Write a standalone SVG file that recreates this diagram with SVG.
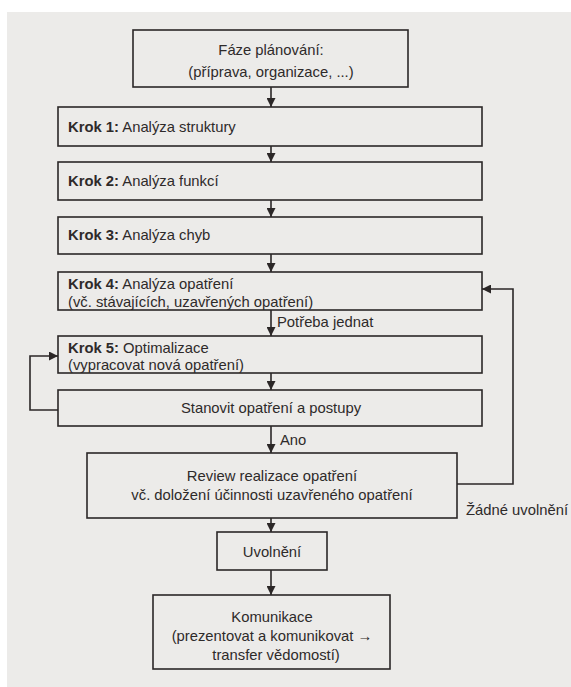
<svg xmlns="http://www.w3.org/2000/svg" width="571" height="687" viewBox="0 0 571 687">
  <defs>
    <style>
      .box { fill: none; stroke: #2b2727; stroke-width: 1.6; }
      .wire { fill: none; stroke: #2b2727; stroke-width: 1.6; }
      text { font-family: "Liberation Sans", Arial, sans-serif; font-size: 14.8px; fill: #2e2a2a; }
      .c { text-anchor: middle; }
      .b { font-weight: bold; }
    </style>
    <marker id="tip" viewBox="0 0 10 10" refX="10" refY="5" markerWidth="9" markerHeight="9" markerUnits="userSpaceOnUse" orient="auto">
      <path d="M0,0 L10,5 L0,10 Z" fill="#2b2727"/>
    </marker>
  </defs>

  <!-- paper -->
  <rect x="0" y="0" width="571" height="687" fill="#ffffff"/>
  <rect x="7" y="12" width="564" height="675" fill="#ecebe9"/>

  <!-- connectors -->
  <g id="connectors">
    <line class="wire" x1="271" y1="87" x2="271" y2="107" marker-end="url(#tip)"/>
    <line class="wire" x1="271" y1="146" x2="271" y2="162" marker-end="url(#tip)"/>
    <line class="wire" x1="271" y1="200" x2="271" y2="217" marker-end="url(#tip)"/>
    <line class="wire" x1="271" y1="254" x2="271" y2="272" marker-end="url(#tip)"/>
    <line class="wire" x1="271" y1="310" x2="271" y2="336" marker-end="url(#tip)"/>
    <line class="wire" x1="271" y1="373" x2="271" y2="390" marker-end="url(#tip)"/>
    <line class="wire" x1="271" y1="426" x2="271" y2="453" marker-end="url(#tip)"/>
    <line class="wire" x1="271" y1="518" x2="271" y2="532" marker-end="url(#tip)"/>
    <line class="wire" x1="271" y1="570" x2="271" y2="595" marker-end="url(#tip)"/>
    <!-- loop back from measures to optimisation -->
    <polyline class="wire" points="58,410 30,410 30,356 58,356" marker-end="url(#tip)"/>
    <!-- loop back from review to step 4 -->
    <polyline class="wire" points="457,484 513,484 513,289 482,289" marker-end="url(#tip)"/>
    <text x="277" y="327">Potřeba jednat</text>
    <text x="280" y="445">Ano</text>
    <text x="466" y="515">Žádné uvolnění</text>
  </g>

  <g id="planning">
    <rect class="box" x="133" y="30" width="275" height="57"/>
    <text class="c" x="271" y="55">Fáze plánování:</text>
    <text class="c" x="271" y="77">(příprava, organizace, ...)</text>
  </g>

  <g id="step1">
    <rect class="box" x="58" y="107" width="424" height="39"/>
    <text x="68" y="132"><tspan class="b">Krok 1:</tspan> Analýza struktury</text>
  </g>

  <g id="step2">
    <rect class="box" x="58" y="162" width="424" height="38"/>
    <text x="68" y="186"><tspan class="b">Krok 2:</tspan> Analýza funkcí</text>
  </g>

  <g id="step3">
    <rect class="box" x="58" y="217" width="424" height="37"/>
    <text x="68" y="240"><tspan class="b">Krok 3:</tspan> Analýza chyb</text>
  </g>

  <g id="step4">
    <rect class="box" x="58" y="272" width="424" height="38"/>
    <text x="68" y="289"><tspan class="b">Krok 4:</tspan> Analýza opatření</text>
    <text x="68" y="307">(vč. stávajících, uzavřených opatření)</text>
  </g>

  <g id="step5">
    <rect class="box" x="58" y="336" width="424" height="37"/>
    <text x="68" y="353"><tspan class="b">Krok 5:</tspan> Optimalizace</text>
    <text x="68" y="370">(vypracovat nová opatření)</text>
  </g>

  <g id="measures">
    <rect class="box" x="58" y="390" width="424" height="36"/>
    <text class="c" x="271" y="413">Stanovit opatření a postupy</text>
  </g>

  <g id="review">
    <rect class="box" x="87" y="453" width="370" height="65"/>
    <text class="c" x="272" y="481">Review realizace opatření</text>
    <text class="c" x="272" y="500">vč. doložení účinnosti uzavřeného opatření</text>
  </g>

  <g id="release">
    <rect class="box" x="217" y="532" width="110" height="38"/>
    <text class="c" x="272" y="557">Uvolnění</text>
  </g>

  <g id="communication">
    <rect class="box" x="153" y="595" width="237" height="74"/>
    <text class="c" x="272" y="622">Komunikace</text>
    <text class="c" x="272" y="641">(prezentovat a komunikovat →</text>
    <text class="c" x="276" y="660">transfer vědomostí)</text>
  </g>
</svg>
